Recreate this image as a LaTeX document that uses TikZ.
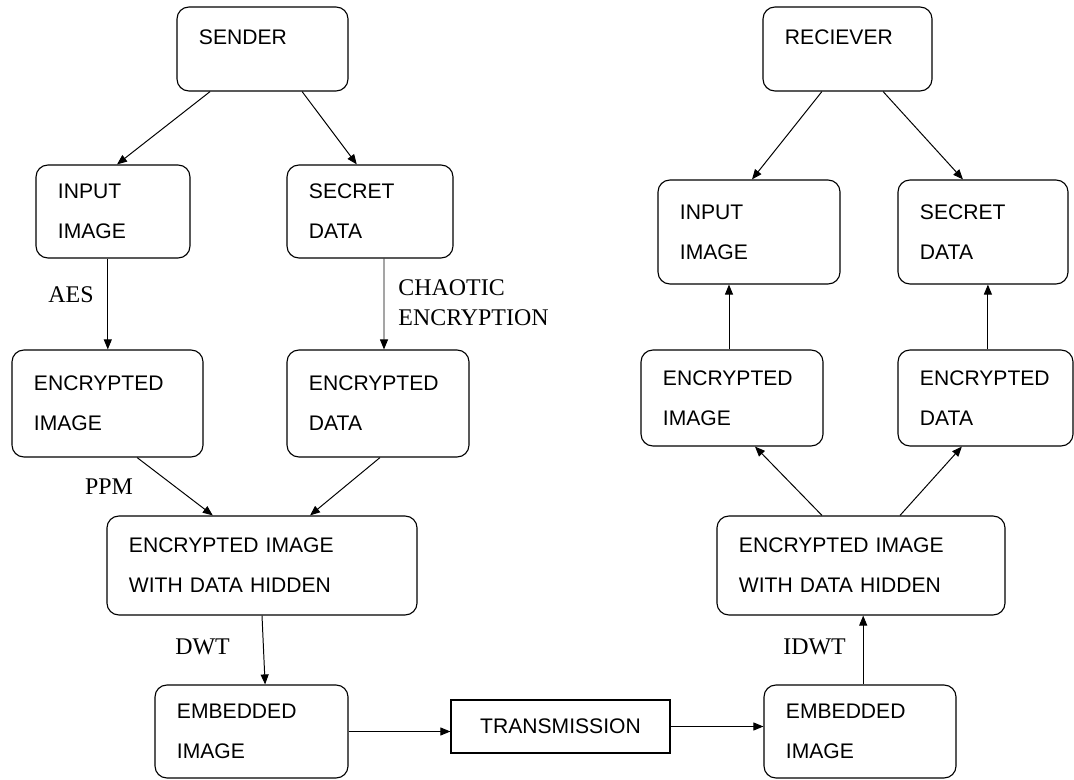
\documentclass[tikz,border=0pt]{standalone}
\usepackage{fontspec}
\setmainfont{Liberation Serif}
\setsansfont{Liberation Sans}
\usetikzlibrary{arrows.meta}

\begin{document}
\begin{tikzpicture}[x=0.025cm, y=-0.025cm, line width=0.7pt,
  blk/.style={draw, rounded corners=0.3cm, line width=0.8pt, align=left, inner xsep=0.55cm, inner ysep=0pt, font=\sffamily\fontsize{15}{28.5}\selectfont},
  lbl/.style={inner sep=0pt, align=left, font=\fontsize{17}{21.3}\selectfont},
  arr/.style={-{Triangle[length=0.25cm, width=0.2cm]}, line width=0.7pt}]
  \useasboundingbox (0,0) rectangle (1074,780);
  \node[blk, text width=3.175cm, minimum height=2.1cm, text depth=0.6cm] (sender) at (262.5,49) {SENDER};
  \node[blk, text width=2.75cm, minimum height=2.325cm] (inL) at (113,211.5) {INPUT\\IMAGE};
  \node[blk, text width=3.05cm, minimum height=2.325cm] (secL) at (370,211.5) {SECRET\\DATA};
  \node[blk, text width=3.675cm, minimum height=2.675cm] (encimgL) at (107.5,403.5) {ENCRYPTED\\IMAGE};
  \node[blk, text width=3.45cm, minimum height=2.675cm] (encdatL) at (378,403.5) {ENCRYPTED\\DATA};
  \node[blk, text width=6.65cm, minimum height=2.475cm] (hidL) at (262,565.5) {ENCRYPTED IMAGE\\WITH DATA HIDDEN};
  \node[blk, text width=3.725cm, minimum height=2.325cm] (embL) at (251.5,731.5) {EMBEDDED\\IMAGE};
  \node[draw, line width=0.8pt, inner sep=0pt, minimum width=5.475cm, minimum height=1.325cm, font=\sffamily\fontsize{15}{18}\selectfont] (trans) at (560.5,726.5) {TRANSMISSION};
  \node[blk, text width=3.7cm, minimum height=2.325cm] (embR) at (860,731.5) {EMBEDDED\\IMAGE};
  \node[blk, text width=6.1cm, minimum height=2.475cm] (hidR) at (861,565.5) {ENCRYPTED IMAGE\\WITH DATA HIDDEN};
  \node[blk, text width=3.45cm, minimum height=2.4cm] (encimgR) at (732,398) {ENCRYPTED\\IMAGE};
  \node[blk, text width=3.275cm, minimum height=2.4cm] (encdatR) at (985.5,398) {ENCRYPTED\\DATA};
  \node[blk, text width=3.45cm, minimum height=2.6cm] (inR) at (749,232) {INPUT\\IMAGE};
  \node[blk, text width=3.15cm, minimum height=2.6cm] (secR) at (983,232) {SECRET\\DATA};
  \node[blk, text width=3.125cm, minimum height=2.1cm, text depth=0.6cm] (recv) at (847.5,49) {RECIEVER};

  \node[lbl] (aes) at (71,295) {AES};
  \node[lbl, anchor=west] (chaotic) at (398,303) {CHAOTIC\\ENCRYPTION};
  \node[lbl] (ppm) at (109,487) {PPM};
  \node[lbl] (dwt) at (202.5,647) {DWT};
  \node[lbl] (idwt) at (814.5,647) {IDWT};

  \draw[arr] ([xshift=-1.31cm]sender.south) -- ([xshift=0.1cm]inL.north);
  \draw[arr] ([xshift=0.99cm]sender.south) -- ([xshift=-0.33cm]secL.north);
  \draw[arr] ([xshift=-0.13cm]inL.south) -- ([xshift=-0.13cm]inL.south |- encimgL.north);
  \draw[arr] ([xshift=0.35cm]secL.south) -- ([xshift=0.15cm]encdatL.north);
  \draw[arr] ([xshift=0.74cm]encimgL.south) -- ([xshift=-1.23cm]hidL.north);
  \draw[arr] ([xshift=0.05cm]encdatL.south) -- ([xshift=1.2cm]hidL.north);
  \draw[arr] (hidL.south) -- ([xshift=0.34cm]embL.north);
  \draw[arr] (embL.east) -- (embL.east -| trans.west);
  \draw[arr] (trans.east) -- (trans.east -| embR.west);
  \draw[arr] ([xshift=0.08cm]embR.north) -- ([xshift=0.08cm]embR.north |- hidR.south);
  \draw[arr] ([xshift=-0.975cm]hidR.north) -- ([xshift=0.575cm]encimgR.south);
  \draw[arr] ([xshift=0.975cm]hidR.north) -- ([xshift=-0.59cm]encdatR.south);
  \draw[arr] ([xshift=-0.075cm]encimgR.north) -- ([xshift=-0.075cm]encimgR.north |- inR.south);
  \draw[arr] ([xshift=0.06cm]encdatR.north) -- ([xshift=0.06cm]encdatR.north |- secR.south);
  \draw[arr] ([xshift=-0.64cm]recv.south) -- ([xshift=0.075cm]inR.north);
  \draw[arr] ([xshift=0.89cm]recv.south) -- ([xshift=-0.5cm]secR.north);
\end{tikzpicture}
\end{document}
